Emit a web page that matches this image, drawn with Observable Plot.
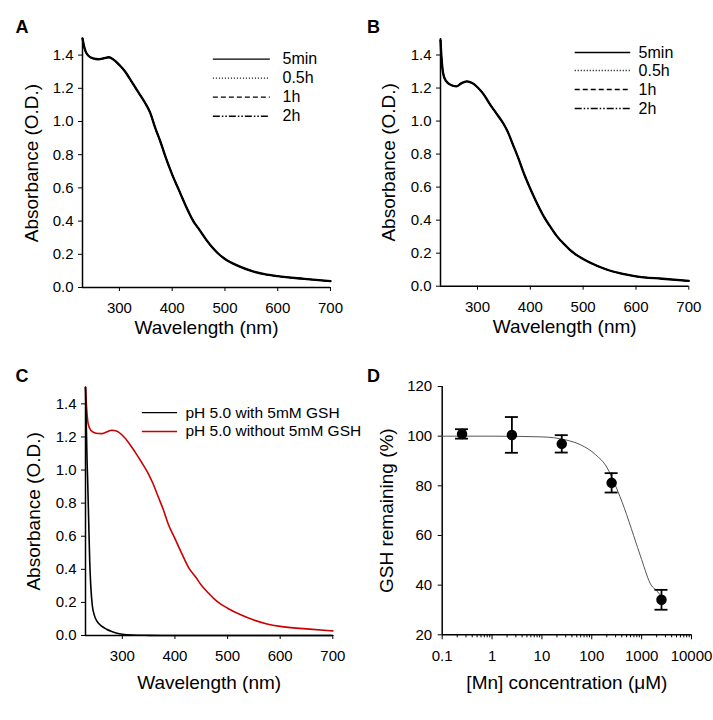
<!DOCTYPE html>
<html><head><meta charset="utf-8">
<script src="https://cdn.jsdelivr.net/npm/d3@7"></script>
<script src="https://cdn.jsdelivr.net/npm/@observablehq/plot@0.6"></script>
<style>
body{margin:0;background:#fff;font-family:"Liberation Sans",Arial,sans-serif;}
#fig{position:relative;width:713px;height:720px;overflow:hidden;background:#fff;}
.letter{position:absolute;font-weight:bold;font-size:18px;line-height:18px;color:#000;}
</style></head><body><div id="fig"></div><script>
// ---------- data ----------
const timeLabels = ["5min", "0.5h", "1h", "2h"];
const timeDashes = [null, "1,2", "5,3", "7,2,1.5,2,1.5,2"];

const wlA = [230,234,240,250,260,270,280,290,300,311,324,336,349,358,368,378,387,400,413,426,440,451,464,475,487,500,525,550,575,600,650,700];
const absA = [1.50,1.44,1.40,1.38,1.375,1.38,1.387,1.37,1.34,1.30,1.235,1.175,1.11,1.055,0.96,0.875,0.79,0.68,0.585,0.49,0.40,0.35,0.29,0.245,0.205,0.172,0.13,0.10,0.08,0.068,0.052,0.038];

const wlB = [230,232,235,240,250,260,270,280,290,300,311,324,336,349,358,368,378,387,400,413,426,440,451,464,475,487,500,525,550,575,600,650,700];
const absB = [1.49,1.38,1.29,1.245,1.218,1.21,1.23,1.24,1.23,1.205,1.165,1.10,1.045,0.985,0.93,0.85,0.77,0.69,0.59,0.50,0.42,0.35,0.30,0.255,0.22,0.19,0.165,0.125,0.095,0.075,0.06,0.045,0.032];

const phLabels = ["pH 5.0 with 5mM GSH", "pH 5.0 without 5mM GSH"];
const phColors = ["#000000", "#cc0000"];
const wlCwith = [230,231,232,233,234,236,238,240,243,247,252,260,270,280,290,300,320,350,380,450,550,700];
const absCwith = [1.50,1.35,1.20,1.05,0.95,0.70,0.45,0.30,0.18,0.12,0.085,0.058,0.038,0.024,0.014,0.008,0.003,0.001,0,0,0,0];
const wlCwithout = [230,232,235,240,250,260,270,280,290,300,311,324,336,349,358,368,378,387,400,413,426,440,451,464,475,487,500,525,550,575,600,650,700];
const absCwithout = [1.50,1.38,1.28,1.24,1.222,1.22,1.23,1.24,1.235,1.21,1.17,1.11,1.05,0.98,0.92,0.84,0.76,0.675,0.585,0.495,0.41,0.35,0.30,0.255,0.22,0.19,0.165,0.125,0.093,0.07,0.055,0.04,0.028];

const mnConc = [0.25, 2.5, 25, 250, 2500];
const gshMean = [100.9, 100.5, 96.9, 81.2, 34.1];
const gshSem = [1.9, 7.2, 3.5, 3.9, 4.0];
const fitConc = [0.1, 1, 10, 30, 60, 120, 200, 300, 450, 690, 1000, 1550, 2000, 2400];
const fitGsh = [100, 100, 99.7, 98.5, 96.5, 92.5, 87.5, 80, 71, 60, 50.3, 40, 37.8, 35.8];

const absTicks = [0, 0.2, 0.4, 0.6, 0.8, 1.0, 1.2, 1.4];
const wlTicks = [300, 400, 500, 600, 700];
const concTicks = [0.1, 1, 10, 100, 1000, 10000];
const gshTicks = [20, 40, 60, 80, 100, 120];

// ---------- helpers ----------
const fig = document.getElementById("fig");
const FONT = "'Liberation Sans', Arial, sans-serif";
const baseStyle = {background: "transparent", overflow: "visible", fontFamily: FONT, fontSize: "15px", color: "#000"};
function place(el, left, top) {
  el.style.position = "absolute";
  el.style.left = left + "px";
  el.style.top = top + "px";
  fig.appendChild(el);
}
function letter(t, left, top) {
  const d = document.createElement("div");
  d.className = "letter"; d.textContent = t;
  d.style.left = left + "px"; d.style.top = top + "px";
  fig.appendChild(d);
}
const rows = (xs, ys) => xs.map((x, i) => ({x, y: ys[i]}));
const yTitle = (t, dx) => Plot.text([t], {frameAnchor: "left", rotate: -90, dx, fontSize: 19, textAnchor: "middle", lineAnchor: "middle"});
const xTitle = (t, dy) => Plot.text([t], {frameAnchor: "bottom", dy, fontSize: 19, textAnchor: "middle", lineAnchor: "middle"});

function spectrum({w, h, ml, mr, mt, mb, lines, legend, ylabDx, xlabDy}) {
  return Plot.plot({
    width: w, height: h, marginLeft: ml, marginRight: mr, marginTop: mt, marginBottom: mb,
    style: baseStyle,
    x: {domain: [230, 700]}, y: {domain: [0, 1.5]},
    marks: [
      Plot.axisY({ticks: absTicks, tickFormat: d => d.toFixed(1), tickSize: 4, tickPadding: 5, label: null}),
      Plot.axisX({ticks: wlTicks, tickSize: 4, tickPadding: 11, label: null}),
      Plot.ruleX([230], {y1: 0, y2: 1.5, strokeWidth: 1.5}),
      Plot.ruleY([0], {strokeWidth: 1.5}),
      ...lines,
      ...legend,
      yTitle("Absorbance (O.D.)", ylabDx),
      xTitle("Wavelength (nm)", xlabDy)
    ]
  });
}
function timeLegend(x1, x2, xt, ys) {
  const m = [];
  timeLabels.forEach((lab, i) => {
    m.push(Plot.ruleY([ys[i]], {x1, x2, stroke: "#000", strokeWidth: 1.4, strokeDasharray: timeDashes[i]}));
    m.push(Plot.text([lab], {x: xt, y: ys[i], textAnchor: "start", fontSize: 16}));
  });
  return m;
}
function timeLines(wl, ab) {
  const data = rows(wl, ab);
  return timeLabels.map((lab, i) => Plot.line(data, {x: "x", y: "y", stroke: "#000",
    strokeWidth: i === 0 ? 2.3 : 1.3, strokeDasharray: timeDashes[i], curve: "monotone-x"}));
}

// ---------- Panel A ----------
place(spectrum({w: 356, h: 340, ml: 82, mr: 26, mt: 38, mb: 53, ylabDx: -50.5, xlabDy: 40.5,
  lines: timeLines(wlA, absA),
  legend: timeLegend(478, 586, 609, [1.376, 1.261, 1.147, 1.032])}), 0, 0);

// ---------- Panel B ----------
place(spectrum({w: 357, h: 340, ml: 84, mr: 24.7, mt: 38, mb: 54.3, ylabDx: -51.5, xlabDy: 40.5,
  lines: timeLines(wlB, absB),
  legend: timeLegend(485, 590, 605, [1.415, 1.306, 1.191, 1.076])}), 356, 0);

// ---------- Panel C ----------
const cLegend = [];
[1.347, 1.233].forEach((yy, i) => {
  cLegend.push(Plot.ruleY([yy], {x1: 338, x2: 405, stroke: phColors[i], strokeWidth: 1.4}));
  cLegend.push(Plot.text([phLabels[i]], {x: 420, y: yy, textAnchor: "start", fontSize: 15.5}));
});
place(spectrum({w: 360, h: 380, ml: 85, mr: 27.7, mt: 46.8, mb: 85, ylabDx: -51.5, xlabDy: 47,
  lines: [
    Plot.line(rows(wlCwithout, absCwithout), {x: "x", y: "y", stroke: phColors[1], strokeWidth: 1.6, curve: "monotone-x"}),
    Plot.line(rows(wlCwith, absCwith), {x: "x", y: "y", stroke: phColors[0], strokeWidth: 1.6, curve: "monotone-x"})
  ],
  legend: cLegend}), 0, 340);

// ---------- Panel D ----------
const minorTicks = [];
for (let e = -1; e < 4; e++) for (let k = 2; k <= 9; k++) minorTicks.push(k * Math.pow(10, e));
const pts = mnConc.map((c, i) => ({c, m: gshMean[i], lo: gshMean[i] - gshSem[i], hi: gshMean[i] + gshSem[i]}));
const fit = rows(fitConc, fitGsh);
place(Plot.plot({
  width: 353, height: 380, marginLeft: 81.7, marginRight: 22, marginTop: 46, marginBottom: 85.7,
  style: baseStyle,
  x: {type: "log", domain: [0.1, 10000]}, y: {domain: [20, 120]},
  marks: [
    Plot.axisY({ticks: gshTicks, tickSize: 4, tickPadding: 6, label: null}),
    Plot.axisX({ticks: minorTicks, tickSize: 3, tickFormat: () => "", label: null}),
    Plot.axisX({ticks: concTicks, tickSize: 5, tickPadding: 11, tickFormat: d => String(d), label: null}),
    Plot.ruleX([0.1], {y1: 20, y2: 120, strokeWidth: 1.5}),
    Plot.ruleY([20], {strokeWidth: 1.5}),
    Plot.line(fit, {x: "x", y: "y", stroke: "#555", strokeWidth: 1, curve: "monotone-x"}),
    Plot.ruleX(pts, {x: "c", y1: "lo", y2: "hi", strokeWidth: 1.8}),
    Plot.ruleY(pts, {y: "hi", x1: d => d.c / 1.35, x2: d => d.c * 1.35, strokeWidth: 1.8}),
    Plot.ruleY(pts, {y: "lo", x1: d => d.c / 1.35, x2: d => d.c * 1.35, strokeWidth: 1.8}),
    Plot.dot(pts, {x: "c", y: "m", r: 4.5, fill: "#000", stroke: "#000"}),
    yTitle("GSH remaining (%)", -55),
    xTitle("[Mn] concentration (μM)", 48)
  ]
}), 360, 340);

// ---------- panel letters ----------
letter("A", 15.5, 17.8);
letter("B", 367, 17.8);
letter("C", 15.5, 366.8);
letter("D", 367, 366.8);
</script></body></html>
